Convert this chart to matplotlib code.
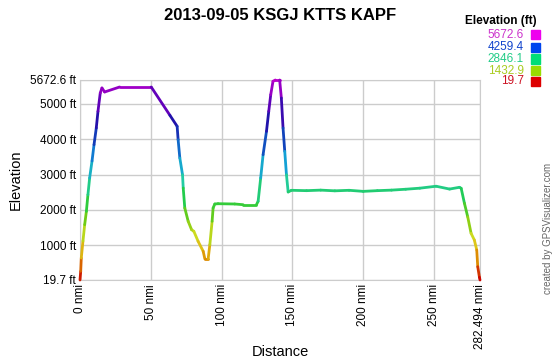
import numpy as np
import matplotlib
matplotlib.use("Agg")
import matplotlib.pyplot as plt
from matplotlib.collections import LineCollection
from matplotlib.colors import LinearSegmentedColormap

plt.rcParams["font.family"] = ["Liberation Sans", "DejaVu Sans"]

# distance (nmi) and elevation (ft)
dist = [0.0, 0.5, 0.9, 2.1, 3.3, 4.5, 5.6, 6.8, 8.5, 9.9, 11.5, 12.7, 14.3,
        15.5, 17.4, 28.0, 50.3, 63.5, 68.6, 69.3, 70.5, 72.4, 72.9, 74.0,
        76.4, 78.8, 80.4, 83.4, 87.0, 88.2, 90.5, 91.7, 93.3, 94.0, 95.2,
        97.5, 109.3, 115.2, 124.6, 125.8, 127.6, 129.3, 131.7, 133.3, 134.7,
        136.3, 138.0, 141.0, 142.2, 143.4, 144.6, 145.8, 147.0, 149.3, 160.0,
        170.0, 180.0, 190.0, 200.0, 210.0, 220.0, 230.0, 240.0, 251.5, 261.0,
        268.0, 269.2, 271.5, 273.8, 276.2, 278.5, 280.2, 280.9, 282.1, 282.494]
elev = [19.7, 265, 640, 1122, 1583, 1960, 2430, 2902, 3383, 3844, 4316, 4788,
        5305, 5447, 5334, 5475, 5475, 4675, 4364, 3985, 3468, 2996, 2620,
        2055, 1679, 1441, 1396, 1114, 831, 613, 613, 1018, 1679, 2055, 2168,
        2176, 2168, 2148, 2148, 2244, 2902, 3561, 4222, 4788, 5257, 5636,
        5672.6, 5672.6, 5164, 4316, 3657, 2996, 2507, 2555, 2545, 2560, 2540,
        2555, 2525, 2545, 2560, 2585, 2615, 2670, 2590, 2640, 2612, 2188,
        1809, 1339, 1150, 868, 396, 96, 19.7]

ymin, ymax = 19.7, 5672.6
xmax = 282.494
xticks = [0, 50, 100, 150, 200, 250, xmax]
xticklabels = ["0 nmi", "50 nmi", "100 nmi", "150 nmi", "200 nmi", "250 nmi",
               "282.494 nmi"]
yticks = [19.7, 1000, 2000, 3000, 4000, 5000, 5672.6]
yticklabels = ["19.7 ft", "1000 ft", "2000 ft", "3000 ft", "4000 ft",
               "5000 ft", "5672.6 ft"]

legend_vals = ["5672.6", "4259.4", "2846.1", "1432.9", "19.7"]
legend_text_colors = ["#cc33cc", "#1144cc", "#22cc88", "#aacc22", "#cc1122"]
legend_box_colors = ["#ee00ee", "#0044ee", "#00dd77", "#99dd00", "#dd0000"]

cmap = LinearSegmentedColormap.from_list("elev", [
    (0.0, "#cc0000"), (0.1, "#dd8800"), (0.2, "#dddd22"), (0.3, "#77cc11"),
    (0.4, "#22cc44"), (0.5, "#22ccaa"), (0.6, "#1199dd"), (0.7, "#1144bb"),
    (0.8, "#2211aa"), (0.9, "#6600bb"), (1.0, "#bb00cc")])

fig = plt.figure(figsize=(5.6, 3.6), dpi=100)
ax = fig.add_axes([80 / 560, 80 / 360, 400 / 560, 200 / 360])

pts = np.column_stack([dist, elev])
segs = np.stack([pts[:-1], pts[1:]], axis=1)
mid = (np.array(elev[:-1]) + np.array(elev[1:])) / 2
lc = LineCollection(segs, cmap=cmap, linewidths=2.0, capstyle="round",
                    joinstyle="round", zorder=3)
lc.set_array((mid - ymin) / (ymax - ymin))
lc.set_clim(0, 1)
lc.set_clip_on(False)
ax.add_collection(lc)

ax.set_xlim(0, xmax)
ax.set_ylim(ymin, ymax)
ax.set_xticks(xticks)
ax.set_xticklabels(xticklabels, rotation=90, fontsize=8.5)
ax.set_yticks(yticks)
ax.set_yticklabels(yticklabels, fontsize=8.5)
ax.tick_params(length=0, pad=3)
ax.grid(True, color="#cccccc", linewidth=1)
ax.set_axisbelow(True)
for s in ax.spines.values():
    s.set_color("#cccccc")
    s.set_zorder(0.5)

fig.text(280 / 560, 1 - 352 / 360, "Distance", fontsize=10.5,
         ha="center", va="center")
fig.text(16 / 560, 1 - 180 / 360, "Elevation", fontsize=10.5,
         rotation=90, ha="center", va="center")

fig.text(280 / 560, 1 - 15 / 360, "2013-09-05 KSGJ KTTS KAPF",
         fontsize=12, fontweight="bold", ha="center", va="center")

# elevation colour legend
fig.text(537 / 560, 1 - 21 / 360, "Elevation (ft)", fontsize=8.5,
         fontweight="bold", ha="right", va="center")
rows_y = [34.5, 47.5, 59, 70.5, 81.5]
for v, tc, bc, yy in zip(legend_vals, legend_text_colors, legend_box_colors,
                         rows_y):
    fig.text(524 / 560, 1 - yy / 360, v, fontsize=8.5, color=tc,
             ha="right", va="center")
    fig.patches.append(plt.Rectangle((531 / 560, 1 - (yy + 4.5) / 360),
                                     9 / 560, 9 / 360, color=bc,
                                     transform=fig.transFigure, figure=fig))

fig.text(548 / 560, 1 - 228 / 360, "created by GPSVisualizer.com",
         fontsize=7, color="#666666", rotation=90, ha="center", va="center")

fig.savefig("out.png", dpi=100)
